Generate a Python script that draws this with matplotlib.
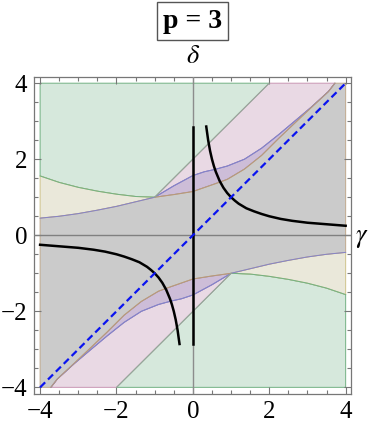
import numpy as np
import matplotlib
matplotlib.use('Agg')
import matplotlib.pyplot as plt
from matplotlib.patches import Polygon
from matplotlib.ticker import MultipleLocator

plt.rcParams['font.family'] = ['Liberation Serif', 'DejaVu Serif']
plt.rcParams['mathtext.fontset'] = 'stix'

# upper boundary curves (lower ones are the point mirror (g, d) -> (-g, -d))
green_x = [-4.0, -3.5, -3.0, -2.5, -2.0, -1.5, -1.0]
green_y = [1.56, 1.39, 1.26, 1.16, 1.08, 1.02, 1.0]

blue_x = [-4.0, -3.5, -3.0, -2.5, -2.0, -1.5, -1.0, -0.5, 0.0, 0.3, 0.57, 0.9, 1.35, 1.8, 2.25, 2.7, 3.1, 3.55, 3.72]
blue_y = [0.45, 0.50, 0.57, 0.66, 0.76, 0.88, 1.0, 1.3, 1.57, 1.67, 1.73, 1.82, 2.0, 2.29, 2.65, 3.03, 3.37, 3.78, 4.0]

brown_x = [-1.0, -0.5, 0.0, 0.6, 0.9, 1.35, 1.8, 2.25, 2.7, 3.1, 3.55, 3.72]
brown_y = [1.0, 1.07, 1.15, 1.36, 1.47, 1.74, 2.1, 2.55, 2.98, 3.36, 3.78, 4.0]

# straight green/pink border
edge_x = [-1.0, 2.0]
edge_y = [1.0, 4.0]

# black curves
hyp_g = [0.35, 0.4, 0.45, 0.5, 0.55, 0.6, 0.7, 0.8, 0.9, 1.0, 1.1, 1.2, 1.4, 1.6, 1.8, 2.0, 2.3, 2.6, 3.0, 3.5, 4.0]
hyp_d = [2.86, 2.5, 2.22, 2.0, 1.82, 1.67, 1.43, 1.25, 1.11, 1.0, 0.91, 0.83, 0.71, 0.63, 0.56, 0.5, 0.43, 0.38, 0.33, 0.29, 0.25]
vline_d = [-2.86, 2.86]
diag = [-4.0, 4.0]

c_green, e_green = '#d6e8dc', '#72b183'
c_beige, e_beige = '#eae8da', '#cfc38a'
c_pink, e_pink = '#e9d9e4', '#c996b4'
c_purple = '#cdbdd8'
c_gray, e_gray = '#cbcbcb', '#bfa88c'
l_blue, l_brown, l_edge = '#8583c8', '#b8987a', '#8faa97'

fig = plt.figure(figsize=(3.74, 4.28), dpi=100)
ax = fig.add_axes([34 / 374, 34 / 428, 317 / 374, 316.7 / 428])

gx, gy = np.array(green_x), np.array(green_y)
bx, by = np.array(blue_x), np.array(blue_y)
rx, ry = np.array(brown_x), np.array(brown_y)
bxr, byr = bx[bx >= -1], by[bx >= -1]

upper = {}
upper['green'] = np.vstack([[[-4, 4], [2, 4], [-1, 1]], np.column_stack([gx, gy])[::-1]])
upper['beige'] = np.vstack([np.column_stack([gx, gy]), np.column_stack([bx, by])[bx <= -1][::-1]])
upper['pink'] = np.vstack([[[-1, 1], [2, 4]], np.column_stack([bxr, byr])[::-1]])
upper['purple'] = np.vstack([np.column_stack([bxr, byr]), np.column_stack([rx, ry])[::-1]])

top = np.vstack([np.column_stack([bx, by])[bx < -1], np.column_stack([rx, ry]), [[4, 4]]])
gray = np.vstack([[[-4, -4]], top, -top])

styles = {'green': (c_green, e_green), 'beige': (c_beige, e_beige),
          'pink': (c_pink, e_pink), 'purple': (c_purple, l_blue)}
for k, pts in upper.items():
    fc, ec = styles[k]
    for s in (1, -1):
        ax.add_patch(Polygon(s * pts, closed=True, fc=fc, ec=ec, lw=0.7, zorder=1))
ax.add_patch(Polygon(gray, closed=True, fc=c_gray, ec=e_gray, lw=0.7, zorder=1))

for s in (1, -1):
    ax.plot(s * gx, s * gy, color=e_green, lw=0.7, zorder=2)
    ax.plot(s * bx, s * by, color=l_blue, lw=0.7, zorder=2)
    ax.plot(s * rx, s * ry, color=l_brown, lw=0.7, zorder=2)
    ax.plot(s * np.array(edge_x), s * np.array(edge_y), color=l_edge, lw=0.7, zorder=2)

ax.axhline(0, color='#808080', lw=1.0, zorder=3)
ax.axvline(0, color='#8c8c8c', lw=1.0, zorder=3)

for s in (1, -1):
    ax.plot(s * np.array(hyp_g), s * np.array(hyp_d), color='black', lw=1.8, zorder=4)
ax.plot([0, 0], vline_d, color='black', lw=1.8, zorder=4)
ax.plot(diag, diag, color='#0a14f0', lw=1.6, ls=(0, (3.2, 1.8)), zorder=5)

ax.set_xlim(-4.16, 4.14)
ax.set_ylim(-4.175, 4.155)
ax.xaxis.set_major_locator(MultipleLocator(2))
ax.yaxis.set_major_locator(MultipleLocator(2))
ax.xaxis.set_minor_locator(MultipleLocator(0.5))
ax.yaxis.set_minor_locator(MultipleLocator(0.5))
ax.tick_params(which='both', direction='in', top=True, right=True, color='#777777', width=0.8)
ax.tick_params(which='major', length=5, labelsize=18, pad=5)
ax.tick_params(which='minor', length=3)
for sp in ax.spines.values():
    sp.set_color('#777777')
    sp.set_linewidth(0.9)

fig.text(193 / 374, 1 - 57 / 428, r'$\delta$', ha='center', va='center', fontsize=19)
fig.text(362 / 374, 1 - 239 / 428, r'$\gamma$', ha='center', va='center', fontsize=19)
fig.text(192.5 / 374, 1 - 21 / 428, 'p = 3', ha='center', va='center', fontsize=20, fontweight='bold',
         bbox=dict(boxstyle='square,pad=0.22', fc='white', ec='#555555', lw=1.0))

fig.savefig('out.png', dpi=100)
